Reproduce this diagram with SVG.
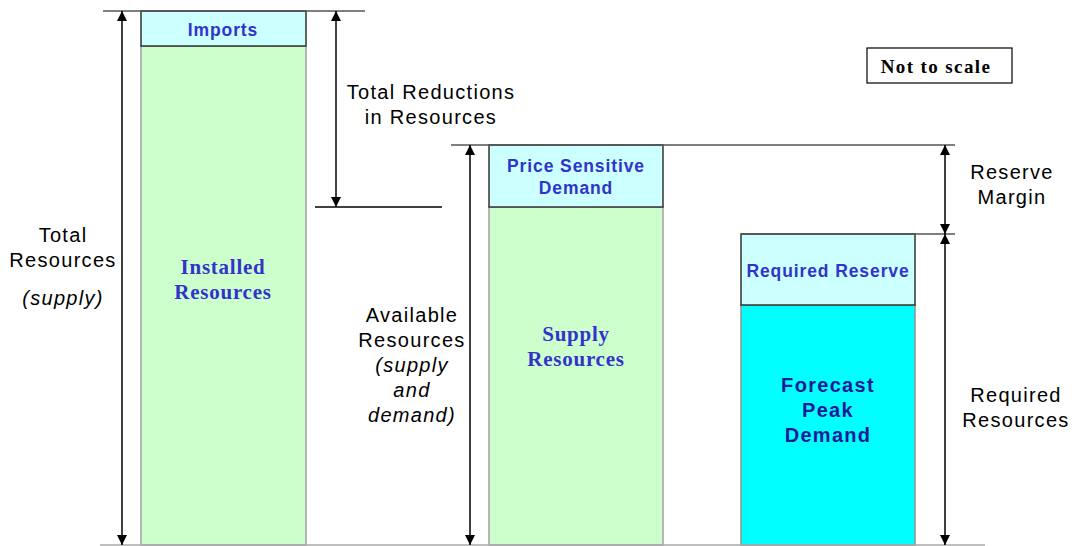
<svg xmlns="http://www.w3.org/2000/svg" width="1075" height="546" viewBox="0 0 1075 546">
<style>
.lbl{font-family:"Liberation Sans",Arial,sans-serif;font-size:20px;letter-spacing:1.3px;fill:#000;text-anchor:middle}
.it{font-style:italic}
.bs{font-family:"Liberation Sans",Arial,sans-serif;font-weight:bold;font-size:17.5px;letter-spacing:0.9px;fill:#3333cc;text-anchor:middle}
.fp{font-size:20px;letter-spacing:1.3px;fill:#1a1a99}
.bser{font-family:"Liberation Serif","Times New Roman",serif;font-weight:bold;font-size:21px;letter-spacing:0.75px;fill:#3333cc;text-anchor:middle}
.green{fill:#ccffcc;stroke:#a0a0a0;stroke-width:1.5}
.lc{fill:#ccffff;stroke:#333;stroke-width:1.5}
.cy{fill:#00ffff;stroke:#909090;stroke-width:1.5}
.ln{stroke:#555;stroke-width:1.5;fill:none}
.ar{stroke:#000;stroke-width:1.5;fill:none}
</style>
<defs>
<marker id="ah" viewBox="0 0 10 10" refX="10" refY="5" markerWidth="12" markerHeight="10" markerUnits="userSpaceOnUse" orient="auto-start-reverse">
<path d="M0,0 L10,5 L0,10 z" fill="#000"/>
</marker>
</defs>
<rect width="1075" height="546" fill="#fff"/>
<g id="installed">
<rect class="green" x="141" y="46" width="165" height="499"/>
<text class="bser" x="223" y="274">Installed</text>
<text class="bser" x="223" y="299">Resources</text>
</g>
<g id="imports">
<rect class="lc" x="141" y="11" width="165" height="35"/>
<text class="bs" x="223" y="36">Imports</text>
</g>
<g id="supply">
<rect class="green" x="489" y="207" width="174" height="338"/>
<text class="bser" x="576" y="341">Supply</text>
<text class="bser" x="576" y="366">Resources</text>
</g>
<g id="price">
<rect class="lc" x="489" y="145" width="174" height="62"/>
<text class="bs" x="576" y="172">Price Sensitive</text>
<text class="bs" x="576" y="194">Demand</text>
</g>
<g id="forecast">
<rect class="cy" x="741" y="305" width="174" height="240"/>
<text class="bs fp" x="828" y="392">Forecast</text>
<text class="bs fp" x="828" y="417">Peak</text>
<text class="bs fp" x="828" y="442">Demand</text>
</g>
<g id="reserve">
<rect class="lc" x="741" y="234" width="174" height="71"/>
<text class="bs" x="828" y="277">Required Reserve</text>
</g>
<g id="notscale">
<rect x="867" y="48" width="145" height="35" fill="#fff" stroke="#000" stroke-width="1.2"/>
<text x="936" y="73" style="font-family:'Liberation Serif','Times New Roman',serif;font-weight:bold;font-size:19px;letter-spacing:1.4px;text-anchor:middle">Not to scale</text>
</g>
<g id="connectors">
<line class="ln" x1="103" y1="11" x2="365" y2="11"/>
<line class="ln" x1="451" y1="145" x2="955" y2="145"/>
<line class="ln" x1="741" y1="234" x2="955" y2="234"/>
<line class="ar" x1="315" y1="207" x2="442" y2="207"/>
<line x1="100" y1="545" x2="985" y2="545" stroke="#aaa" stroke-width="1.5"/>
<line class="ar" x1="122" y1="11" x2="122" y2="545" marker-start="url(#ah)" marker-end="url(#ah)"/>
<line class="ar" x1="336" y1="11" x2="336" y2="207" marker-start="url(#ah)" marker-end="url(#ah)"/>
<line class="ar" x1="470" y1="145" x2="470" y2="545" marker-start="url(#ah)" marker-end="url(#ah)"/>
<line class="ar" x1="945" y1="145" x2="945" y2="234" marker-start="url(#ah)" marker-end="url(#ah)"/>
<line class="ar" x1="945" y1="234" x2="945" y2="545" marker-start="url(#ah)" marker-end="url(#ah)"/>
</g>
<g id="labels">
<text class="lbl" x="431" y="99">Total Reductions</text>
<text class="lbl" x="431" y="124">in Resources</text>
<text class="lbl" x="63" y="242">Total</text>
<text class="lbl" x="63" y="267">Resources</text>
<text class="lbl it" x="63" y="305">(supply)</text>
<text class="lbl" x="1012" y="179">Reserve</text>
<text class="lbl" x="1012" y="204">Margin</text>
<text class="lbl" x="1016" y="402">Required</text>
<text class="lbl" x="1016" y="427">Resources</text>
<text class="lbl" x="412" y="322">Available</text>
<text class="lbl" x="412" y="347">Resources</text>
<text class="lbl it" x="412" y="372">(supply</text>
<text class="lbl it" x="412" y="397">and</text>
<text class="lbl it" x="412" y="422">demand)</text>
</g>
</svg>
